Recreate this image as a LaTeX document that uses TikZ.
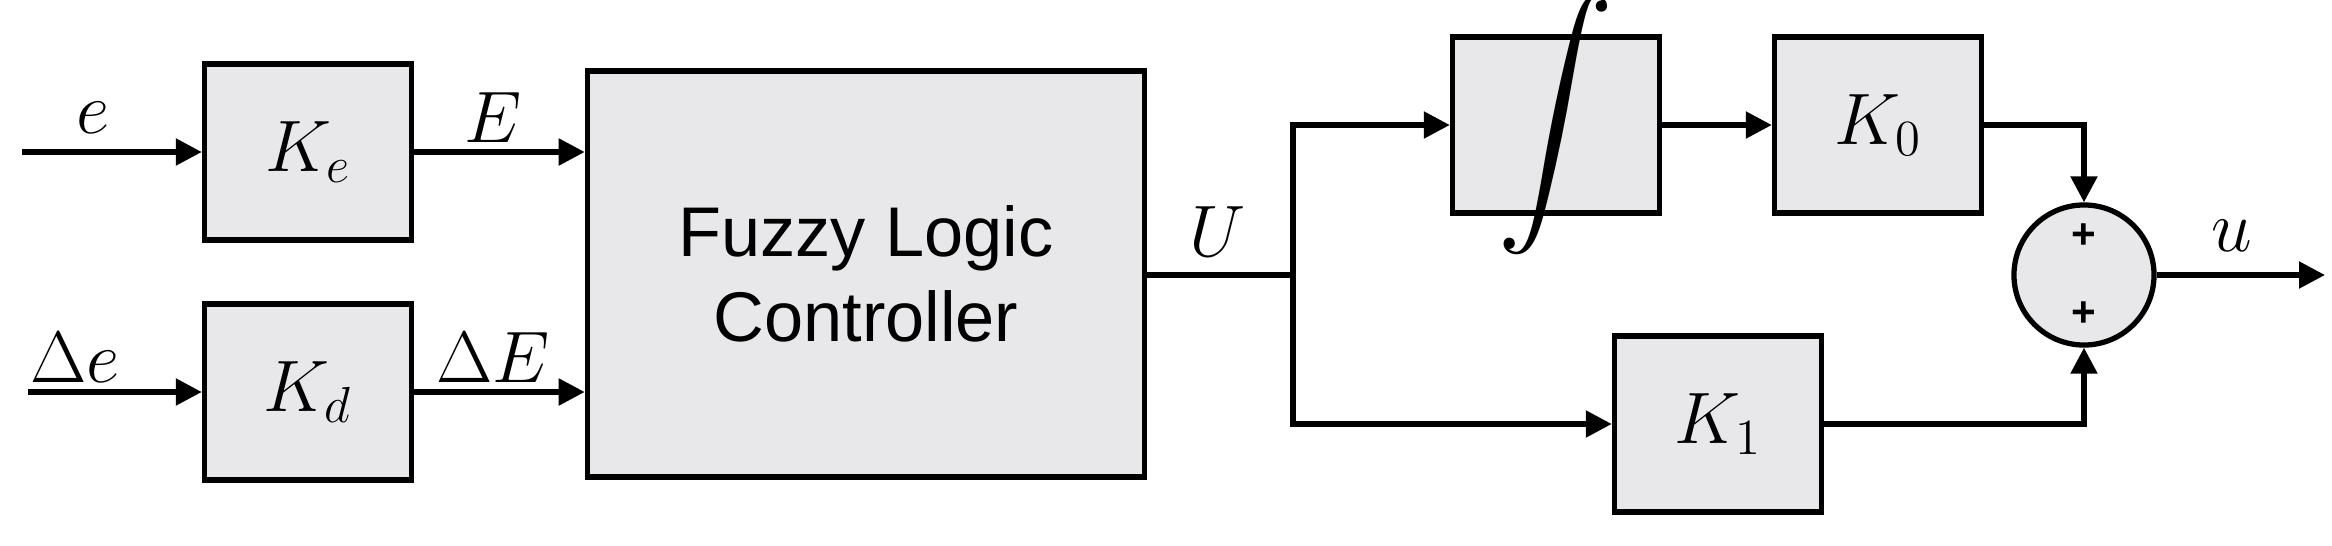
\documentclass[tikz,border=0pt]{standalone}
\usepackage{fontspec}
\setmainfont{Liberation Sans}
\usepackage{amsmath}
\usepackage{graphicx}
\usetikzlibrary{arrows.meta,positioning,calc}
\definecolor{boxgray}{RGB}{232,232,234}

\begin{document}
\begin{tikzpicture}[
  x=0.01cm, y=-0.01cm,
  font=\fontsize{20}{24}\selectfont,
  block/.style={draw=black, line width=1.5pt, fill=boxgray, inner sep=0pt},
  gain/.style={block, minimum width=2.07cm, minimum height=1.76cm},
  sumnode/.style={draw=black, line width=1.5pt, fill=boxgray, circle, minimum size=1.4cm, inner sep=0pt},
  arrow/.style={-{Triangle[length=2.6mm,width=2.6mm]}, line width=1.5pt},
  line/.style={line width=1.5pt},
  sig/.style={font=\fontsize{20}{24}\selectfont}
]
\useasboundingbox (0,0) rectangle (2332,545);

% ===== gains on the inputs =====
\node[gain] (ke) at (308,152) {$K_e$};
\node[gain] (kd) at (308,392) {$K_d$};
\node[block, minimum width=5.57cm, minimum height=4.06cm, align=center] (flc) at (866,274) {Fuzzy Logic\\Controller};

% ===== right part =====
\node[gain] (int) at (1556,125) {};
\node at (int) {\scalebox{1.6}{$\displaystyle\int$}};
\node[gain] (k0) at (1878,125) {$K_0$};
\node[gain] (k1) at (1718,424) {$K_1$};
\node[sumnode] (sum) at (2084,275) {};
\node[font=\bfseries\large] at (2084,236) {+};
\node[font=\bfseries\large] at (2084,314) {+};

% free ends and branch points
\coordinate (ein) at (22,152);
\coordinate (dein) at (28,392);
\coordinate (split) at (1293,275);
\coordinate (uout) at (2325,275);

% arrows
\draw[arrow] (ein) -- (ke);
\draw[arrow] (dein) -- (kd);
\draw[arrow] (ke) -- (ke -| flc.west);
\draw[arrow] (kd) -- (kd -| flc.west);
\draw[line] (flc.east |- split) -- (split);
\draw[arrow] (split) |- (int);
\draw[arrow] (split) |- (k1);
\draw[arrow] (int) -- (k0);
\draw[arrow] (k0) -| (sum.north);
\draw[arrow] (k1) -| (sum.south);
\draw[arrow] (sum) -- (uout);

% signal labels
\node[sig] at (93,118) {$e$};
\node[sig] at (493,118) {$E$};
\node[sig] at (75,358) {$\Delta e$};
\node[sig] at (493,358) {$\Delta E$};
\node[sig] at (1218,232) {$U$};
\node[sig] at (2232,236) {$u$};
\end{tikzpicture}
\end{document}
